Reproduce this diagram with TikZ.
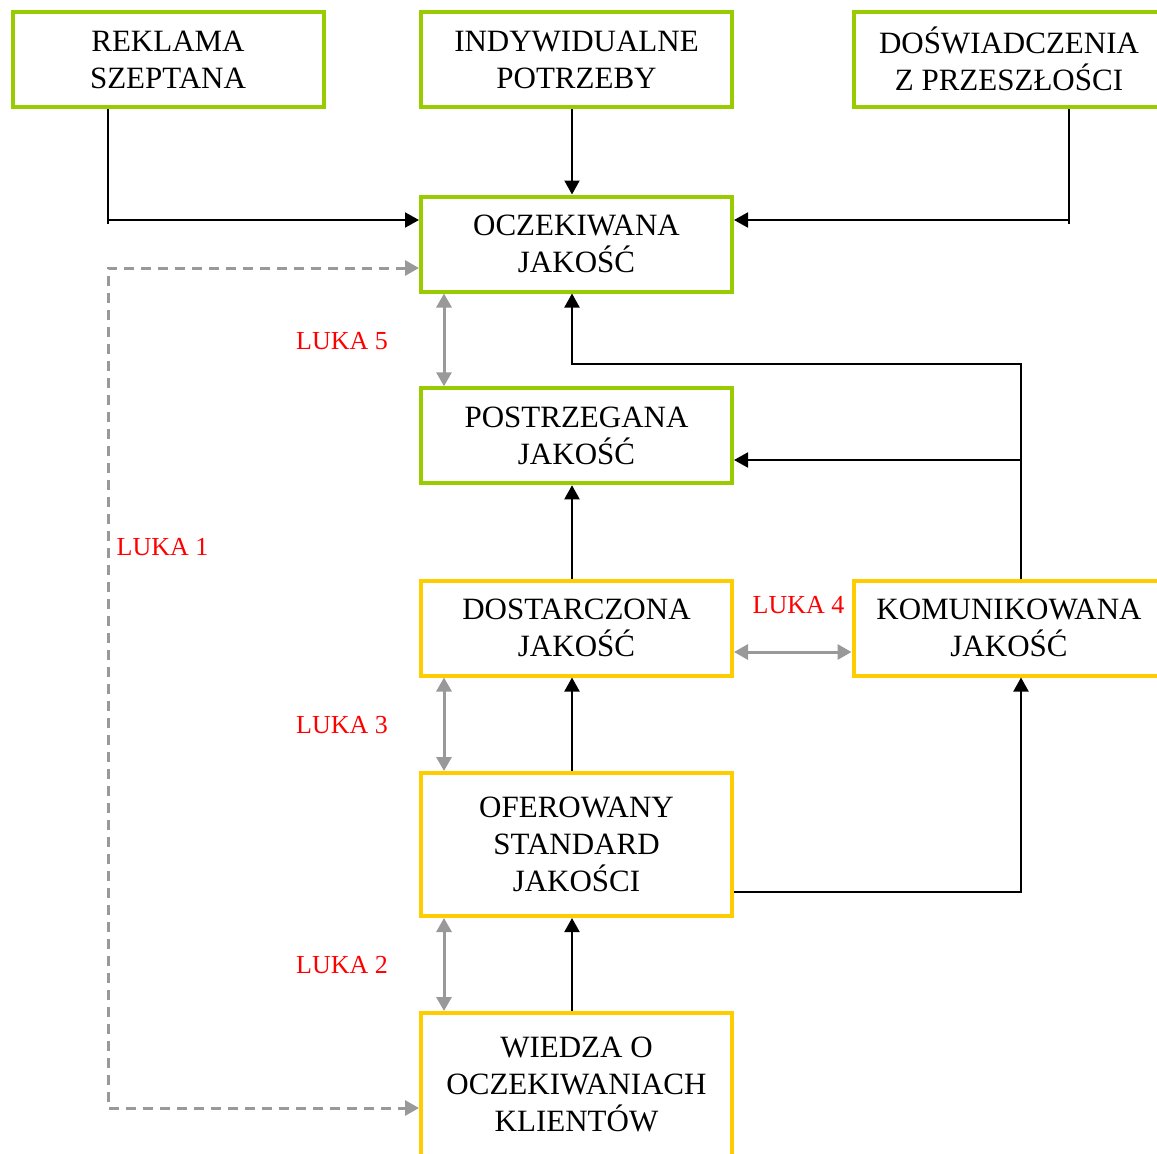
\documentclass[tikz,border=0pt]{standalone}
\usepackage{fontspec}
\setmainfont{Liberation Serif}
\usetikzlibrary{arrows.meta}
\definecolor{boxgreen}{HTML}{99CC00}
\definecolor{boxyellow}{HTML}{FFCC00}
\definecolor{gapgray}{HTML}{999999}
\definecolor{gapred}{HTML}{FF0000}

\begin{document}
\begin{tikzpicture}[x=1pt,y=-1pt,
  box/.style={draw, line width=4pt, minimum width=311pt, minimum height=95pt,
    inner sep=0pt, align=center, font=\fontsize{31}{37}\selectfont},
  greenbox/.style={box, draw=boxgreen},
  yellowbox/.style={box, draw=boxyellow},
  tip/.tip={Triangle[length=14pt,width=15pt]},
  flow/.style={line width=2pt, -tip},
  plainline/.style={line width=2pt},
  gap/.style={draw=gapgray, line width=3pt, tip-tip, color=gapgray},
  gapdash/.style={draw=gapgray, color=gapgray, line width=3pt,
    dash pattern=on 10pt off 7pt, tip-tip},
  gaplabel/.style={text=gapred, inner sep=0pt, font=\fontsize{26}{30}\selectfont}
]
\useasboundingbox (0,0) rectangle (1157,1154);
\clip (0,0) rectangle (1157,1154);

% boxes
\node[greenbox] (rek) at (168,59.75) {REKLAMA\\SZEPTANA};
\node[greenbox] (ind) at (576.5,59.75) {INDYWIDUALNE\\POTRZEBY};
\node[greenbox] (dos) at (1009,59.75) {\raisebox{2pt}{DOŚWIADCZENIA}\\\raisebox{2pt}{Z PRZESZŁOŚCI}};
\node[greenbox] (ocz) at (576.5,244) {OCZEKIWANA\\JAKOŚĆ};
\node[greenbox] (pos) at (576.5,435.75) {POSTRZEGANA\\JAKOŚĆ};
\node[yellowbox] (dst) at (576.5,628) {DOSTARCZONA\\JAKOŚĆ};
\node[yellowbox] (kom) at (1009,628) {KOMUNIKOWANA\\JAKOŚĆ};
\node[yellowbox, minimum height=143pt] (ofe) at (576.5,844.5) {OFEROWANY\\STANDARD\\JAKOŚCI};
\node[yellowbox, minimum height=143pt] (wie) at (576.5,1084.5) {WIEDZA O\\OCZEKIWANIACH\\KLIENTÓW};

% routing points
\coordinate (spine) at (572,0);
\coordinate (rekdrop) at (108,220);
\coordinate (rekend) at (108,224);
\coordinate (dosdrop) at (1069,220);
\coordinate (dosend) at (1069,224);
\coordinate (kup) at (1021,364);
\coordinate (kmid) at (1021,460);
\coordinate (oright) at (1021,892);
\coordinate (gx) at (444,0);
\coordinate (g4) at (0,652);
\coordinate (d1) at (108,268);
\coordinate (d2) at (108,1108);

% inputs to expected quality
\draw[plainline] (rek.south -| rekdrop) -- (rekend);
\draw[flow] (rekdrop) -- (ocz.west |- rekdrop);
\draw[flow] (ind.south -| spine) -- (ocz.north -| spine);
\draw[plainline] (dos.south -| dosdrop) -- (dosend);
\draw[flow] (dosdrop) -- (ocz.east |- dosdrop);

% main chain
\draw[flow] (dst.north -| spine) -- (pos.south -| spine);
\draw[flow] (ofe.north -| spine) -- (dst.south -| spine);
\draw[flow] (wie.north -| spine) -- (ofe.south -| spine);

% communicated quality
\draw[flow] (kom.north -| kup) -- (kup) -| (ocz.south -| spine);
\draw[flow] (kmid) -- (pos.east |- kmid);
\draw[flow] (ofe.east |- oright) -| (kom.south -| oright);

% gaps
\draw[gap] (ocz.south -| gx) -- (pos.north -| gx);
\draw[gap] (dst.south -| gx) -- (ofe.north -| gx);
\draw[gap] (ofe.south -| gx) -- (wie.north -| gx);
\draw[gap] (dst.east |- g4) -- (kom.west |- g4);
\draw[gapdash] (ocz.west |- d1) -- (d1) -- (d2) -- (wie.west |- d2);

\node[gaplabel] (l5) at (342,341) {LUKA 5};
\node[gaplabel] (l1) at (162.5,547) {LUKA 1};
\node[gaplabel] (l4) at (798.5,605) {LUKA 4};
\node[gaplabel] (l3) at (342,725) {LUKA 3};
\node[gaplabel] (l2) at (342,965) {LUKA 2};
\end{tikzpicture}
\end{document}
